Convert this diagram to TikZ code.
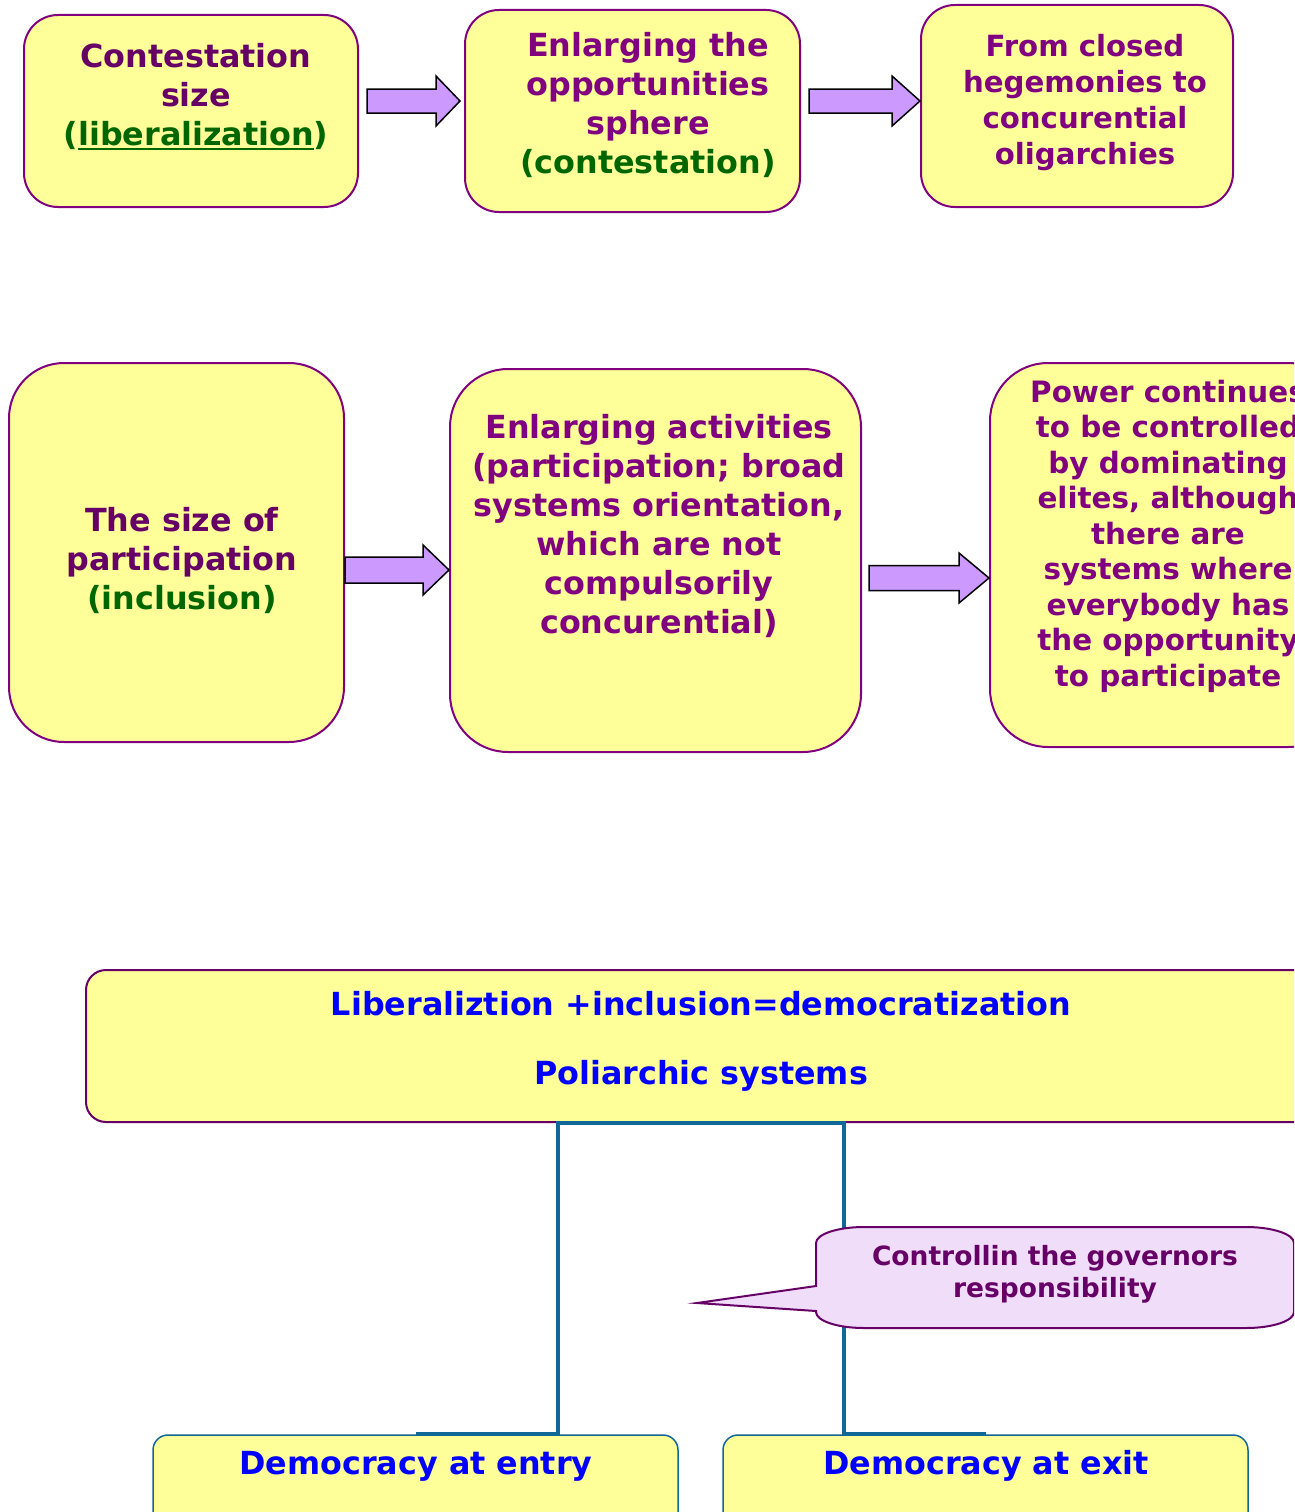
\documentclass[tikz,border=0pt]{standalone}
\usepackage{fontspec}
\setmainfont{DejaVu Sans}
\usetikzlibrary{calc}
\definecolor{boxfill}{HTML}{FFFF99}
\definecolor{boxline}{HTML}{800080}
\definecolor{darkpurple}{HTML}{660066}
\definecolor{txtpurple}{HTML}{800080}
\definecolor{txtgreen}{HTML}{006600}
\definecolor{txtblue}{HTML}{0000FF}
\definecolor{arrowfill}{HTML}{CC99FF}
\definecolor{connblue}{HTML}{106899}
\definecolor{calloutfill}{HTML}{F0DDFA}
\newcommand\grn[1]{\textcolor{txtgreen}{#1}}
\newcommand\thickul[1]{\setbox0\hbox{#1}\rlap{\rule[-4.5pt]{\wd0}{2.6pt}}\box0}
\newcommand\blkarrow[5]{%
  \draw[barrow] let \p1=(#1), \p2=(#2) in
    (\x1,\y1+#3) -- (\x2-#5,\y1+#3) -- (\x2-#5,\y1+#4) -- (\x2,\y1)
    -- (\x2-#5,\y1-#4) -- (\x2-#5,\y1-#3) -- (\x1,\y1-#3) -- cycle;}
\tikzset{
  rbox/.style={draw=boxline, line width=2pt, fill=boxfill, rounded corners=#1, inner sep=0pt},
  ebox/.style={draw=connblue, line width=1.5pt, fill=boxfill, rounded corners=15pt, inner sep=0pt},
  barrow/.style={draw=black, line width=1.5pt, fill=arrowfill, line join=miter},
  conn/.style={draw=connblue, line width=4pt},
  tbig/.style={align=center, inner sep=0pt, font=\fontsize{31.8}{39}\selectfont\bfseries},
  tmid/.style={align=center, inner sep=0pt, font=\fontsize{29.2}{36}\selectfont\bfseries},
  tsmall/.style={align=center, inner sep=0pt, font=\fontsize{29.4}{35.5}\selectfont\bfseries},
  tblue/.style={align=center, inner sep=0pt, text=txtblue, font=\fontsize{31.8}{36}\selectfont\bfseries},
}
\begin{document}
\begin{tikzpicture}[x=1pt,y=1pt]
\useasboundingbox (0,0) rectangle (1294,-1512);
\clip (0,0) rectangle (1294,-1512);
\fill[white] (0,0) rectangle (1294,-1512);

% ---------- row 1 ----------
\node[rbox=34pt, minimum width=334pt, minimum height=192pt] (b1) at (191,-111) {};
\node[rbox=34pt, minimum width=335pt, minimum height=202pt] (b2) at (632.5,-111) {};
\node[rbox=34pt, minimum width=312pt, minimum height=202pt] (b3) at (1077,-106) {};

\node[tbig, text=darkpurple] (t1) at (196,-97) {Contestation\\size\\\grn{(\thickul{liberalization})}};
\node[tbig, text=txtpurple] (t2) at (648,-105) {Enlarging the\\opportunities\\sphere\\\grn{(contestation)}};
\node[tmid, text=txtpurple] (t3) at (1085,-103) {From closed\\hegemonies to\\concurential\\oligarchies};

\coordinate (a1s) at ($(b1.east)+(8,10)$);
\coordinate (a1e) at ($(b2.west)+(-4,10)$);
\coordinate (a2s) at ($(b2.east)+(8,10)$);
\coordinate (a2e) at ($(b3.west)+(0,5)$);
\blkarrow{a1s}{a1e}{12pt}{25pt}{24pt}
\blkarrow{a2s}{a2e}{12pt}{25pt}{28pt}

% ---------- row 2 ----------
\node[rbox=55pt, minimum width=335pt, minimum height=379pt] (c1) at (176.5,-552.5) {};
\node[rbox=58pt, minimum width=411pt, minimum height=383pt] (c2) at (655.5,-560.5) {};
\node[rbox=58pt, minimum width=356pt, minimum height=384pt] (c3) at (1168,-555) {};

\node[tbig, text=darkpurple] (u1) at (182,-561) {The size of\\participation\\\grn{(inclusion)}};
\node[tbig, text=txtpurple] (u2) at (659,-526) {Enlarging activities\\(participation; broad\\systems orientation,\\which are not\\compulsorily\\concurential)};
\node[tsmall, text=txtpurple] (u3) at (1168,-536) {Power continues\\to be controlled\\by dominating\\elites, although\\there are\\systems where\\everybody has\\the opportunity\\to participate};

\coordinate (a3s) at ($(c1.east)+(0,-17.5)$);
\coordinate (a3e) at ($(c2.west)+(0,-9.5)$);
\coordinate (a4s) at ($(c2.east)+(7,-17.5)$);
\coordinate (a4e) at ($(c3.west)+(0,-23)$);
\blkarrow{a3s}{a3e}{13pt}{25pt}{26pt}
\blkarrow{a4s}{a4e}{12.5pt}{25pt}{30pt}

% ---------- bottom ----------
\node[rbox=20pt, draw=darkpurple, minimum width=1230pt, minimum height=152pt] (d) at (701,-1046) {};
\node[tblue] (dt1) at (701,-1004) {Liberaliztion +inclusion=democratization};
\node[tblue] (dt2) at (701,-1076) {Poliarchic systems};

\node[ebox, minimum width=525pt, minimum height=120pt] (e1) at (415.5,-1495) {};
\node[ebox, minimum width=525pt, minimum height=120pt] (e2) at (985.5,-1495) {};
\node[tblue] (et1) at (416,-1466) {Democracy at entry};
\node[tblue] (et2) at (986,-1466) {Democracy at exit};

\coordinate (jl) at (558,-1280);
\coordinate (jr) at (844,-1280);
\draw[conn] (d.south) -| (jl) |- (e1.north);
\draw[conn] (d.south) -| (jr) |- (e2.north);

% ---------- callout ----------
\draw[draw=darkpurple, line width=2pt, fill=calloutfill]
  (816,-1286) -- (816,-1243) arc[start angle=180, end angle=90, x radius=48, y radius=16]
  -- (1246,-1227) arc[start angle=90, end angle=0, x radius=48, y radius=16]
  -- (1294,-1312) arc[start angle=0, end angle=-90, x radius=48, y radius=16]
  -- (864,-1328) arc[start angle=270, end angle=180, x radius=48, y radius=16]
  -- (816,-1311) -- (697,-1303) -- cycle;
\node[align=center, inner sep=0pt, text=darkpurple, font=\fontsize{26.5}{32}\selectfont\bfseries] (callout) at (1055,-1274) {Controllin the governors\\responsibility};
\end{tikzpicture}
\end{document}
